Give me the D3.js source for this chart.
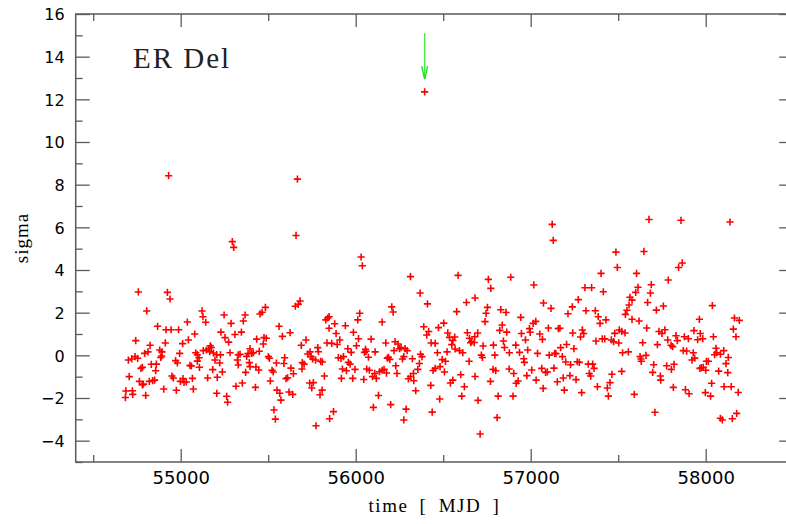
<!DOCTYPE html>
<html>
<head>
<meta charset="utf-8">
<script src="https://cdn.jsdelivr.net/npm/d3@7/dist/d3.min.js"></script>
<style>
  html, body { margin: 0; padding: 0; background: #fff; }
  svg { display: block; }
</style>
</head>
<body>
<svg id="chart" width="786" height="524"></svg>
<script>
// ---- data: [MJD, sigma] ----
const obsEarly = [[54931,8.42],[55667,8.26],[55659,5.62],[55295,5.33],[55303,5.06],[54758,2.97],[54924,2.95],[54939,2.64],[54806,2.08],[55655,2.30],[55672,2.39],[55682,2.55],[55484,2.25],[55465,2.02],[55453,1.94],[55122,2.08],[55127,1.81],[55143,1.55],[55248,1.89],[55368,1.89],[55358,1.61],[55288,1.50],[55038,1.56],[54868,1.36],[54916,1.20],[54945,1.20],[54988,1.20],[55080,1.00],[55044,0.72],[55011,0.55],[54912,0.58],[54743,0.69],[55230,1.09],[55253,0.83],[55274,0.62],[55310,0.98],[55347,1.09],[55434,0.76],[55476,0.83],[55489,0.80],[55472,0.53],[55562,1.36],[55581,0.89],[55625,1.06],[55716,0.72],[55689,0.47],[55829,1.66],[55840,1.75],[55848,1.27],[55836,0.58],[54825,0.47],[54880,0.25],[54893,0.16],[54794,0.09],[54813,0.16],[54701,-0.22],[54720,-0.17],[54739,-0.06],[54754,-0.14],[54773,-0.61],[54781,-0.56],[54832,-0.42],[54861,-0.41],[54857,-0.72],[54891,-0.03],[54886,-0.10],[54994,0.09],[54971,-0.25],[54981,-0.36],[55053,-0.47],[55061,-0.50],[55086,0.12],[55095,0.03],[55105,-0.11],[55095,-0.27],[55107,-0.56],[55129,0.22],[55147,0.25],[55160,0.31],[55169,0.45],[55175,0.37],[55166,0.17],[55187,0.11],[55206,0.03],[55227,0.02],[55223,-0.36],[55196,-0.22],[55183,-0.67],[55238,-0.78],[55282,0.12],[55329,0.02],[55339,0.05],[55324,-0.22],[55329,-0.45],[55377,-0.05],[55385,0.08],[55406,0.09],[55396,0.31],[55415,0.12],[55449,0.19],[55392,-0.34],[55396,-0.53],[55430,-0.55],[55446,-0.69],[55371,-0.80],[55501,-0.06],[55507,-0.14],[55547,-0.36],[55594,-0.11],[55590,-0.38],[55522,-0.70],[55529,-0.78],[55630,-0.60],[55644,-0.86],[55695,-0.34],[55705,-0.41],[55693,-0.64],[55726,0.06],[55739,0.16],[55745,-0.06],[55783,0.36],[55787,0.17],[55754,-0.17],[55771,-0.22],[55800,-0.28],[55809,-0.31],[55821,-0.97],[54706,-1.00],[54764,-1.22],[54781,-1.39],[54787,-1.35],[54821,-1.22],[54840,-1.19],[54851,-1.16],[54800,-1.88],[54687,-1.67],[54684,-1.98],[54724,-1.66],[54726,-1.83],[54903,-1.58],[54950,-0.97],[54958,-1.06],[54975,-1.64],[54998,-1.22],[55013,-1.09],[55019,-1.27],[55032,-1.25],[55067,-1.08],[55072,-1.58],[55154,-1.06],[55209,-1.03],[55206,-1.78],[55263,-1.92],[55268,-2.20],[55316,-1.45],[55352,-1.30],[55427,-1.50],[55512,-1.20],[55550,-1.63],[55566,-1.78],[55573,-2.10],[55602,-1.09],[55611,-1.05],[55619,-1.72],[55640,-1.83],[55533,-2.56],[55541,-2.99],[55737,-1.30],[55749,-1.53],[55758,-1.28],[55808,-1.63],[55796,-1.85],[55773,-3.30],[55851,-2.97]];

const obsMiddle = [[56031,4.61],[56038,4.20],[56313,3.69],[56585,3.75],[56758,3.56],[56772,3.14],[56886,3.66],[57018,3.30],[56368,2.92],[56410,2.41],[56633,2.48],[56682,2.69],[57073,2.45],[56577,2.05],[56753,2.25],[56745,1.97],[56739,1.58],[56829,2.14],[56859,2.01],[56943,1.78],[56206,2.27],[56214,2.03],[56023,1.97],[56012,1.66],[56151,1.56],[55941,1.39],[55880,1.48],[55888,1.02],[55909,0.72],[55848,1.81],[55987,1.08],[56016,0.78],[56004,0.45],[56088,0.76],[56172,0.58],[56056,0.28],[56050,0.14],[56111,0.16],[56225,0.64],[56242,0.53],[56259,0.36],[56219,0.22],[56282,0.31],[56294,0.22],[56250,0.31],[56275,-0.06],[56267,-0.17],[56187,-0.09],[56181,-0.13],[56195,-0.19],[56324,-0.16],[56370,0.05],[56379,-0.06],[56364,-0.38],[56355,-0.66],[56330,-0.85],[56313,-0.99],[56301,-1.10],[56332,-1.19],[56343,-1.66],[56389,1.34],[56406,0.95],[56417,1.12],[56431,0.58],[56454,0.56],[56473,1.30],[56503,1.51],[56526,1.05],[56536,0.84],[56555,0.70],[56566,0.86],[56549,0.50],[56568,0.30],[56593,0.22],[56612,0.12],[56638,1.06],[56650,0.80],[56663,0.64],[56680,0.87],[56697,1.05],[56657,0.59],[56677,0.60],[56728,0.44],[56718,0.01],[56724,-0.10],[56787,0.48],[56795,0.01],[56823,1.17],[56837,1.42],[56844,0.67],[56850,0.37],[56863,1.09],[56878,0.12],[56915,0.48],[56936,0.14],[56947,1.02],[56970,0.72],[56983,0.25],[56993,1.25],[56997,1.08],[57014,1.50],[57029,1.59],[57039,0.09],[57052,1.00],[57067,0.75],[56960,-0.16],[56964,-0.33],[57006,-0.69],[57063,-0.61],[57071,-1.55],[57031,-1.16],[56978,-0.95],[56928,-1.20],[56917,-1.31],[56903,-0.85],[56877,-0.64],[56800,-0.72],[56785,-0.66],[56770,-1.22],[56682,-0.99],[56648,-0.28],[56600,-0.91],[56621,-1.47],[56606,-1.91],[56555,-1.16],[56541,-1.30],[56494,-0.20],[56513,-0.28],[56482,-0.53],[56467,0.12],[56454,-0.61],[56442,-0.71],[56507,-0.78],[56429,-1.41],[56480,-2.05],[56437,-2.66],[56522,0.16],[55863,0.56],[55894,0.51],[55955,0.31],[55974,0.14],[55916,-0.14],[55901,-0.11],[55930,-0.06],[55958,-0.33],[55968,-0.41],[55947,-0.72],[55924,-0.64],[55996,-0.66],[55983,-1.08],[55918,-1.08],[56059,0.19],[56073,-0.09],[56063,-0.64],[56078,-0.70],[56046,-1.13],[56096,-1.00],[56109,-0.85],[56118,-1.08],[56136,-0.77],[56151,-0.70],[56162,-0.66],[56176,-0.83],[56229,-0.49],[56236,-0.85],[56130,-1.88],[56101,-2.44],[56200,-2.31],[56288,-2.52],[56275,-3.03],[55873,-2.64],[56699,-2.11],[56711,-3.69],[56808,-2.92],[56814,-1.91],[56899,-1.91]];

const obsLate = [[57123,6.14],[57129,5.39],[57676,6.37],[57859,6.33],[58139,6.25],[57487,4.84],[57647,4.87],[57495,4.12],[57845,4.12],[57866,4.33],[57402,3.84],[57605,3.84],[57786,3.53],[57310,3.17],[57348,3.17],[57415,2.98],[57613,3.19],[57600,2.95],[57689,3.31],[57684,2.92],[57567,2.72],[57579,2.59],[57562,2.36],[57550,2.11],[57541,1.92],[57668,2.48],[57758,2.31],[57718,2.12],[58038,2.33],[57116,2.20],[57272,2.61],[57238,2.27],[57213,1.95],[57316,2.09],[57369,2.09],[57386,1.81],[57396,1.50],[57430,1.66],[57579,1.69],[57619,1.61],[57663,1.28],[57964,1.69],[58164,1.75],[58192,1.64],[58158,1.23],[58173,0.87],[57101,1.28],[57158,1.25],[57167,1.27],[57240,1.05],[57295,1.19],[57303,1.02],[57285,0.86],[57373,0.67],[57409,0.77],[57423,0.77],[57461,0.72],[57474,0.64],[57480,1.03],[57506,1.19],[57520,1.12],[57539,1.05],[57503,0.58],[57525,0.12],[57558,0.16],[57640,0.59],[57724,0.50],[57733,1.12],[57750,1.03],[57767,1.20],[57783,0.72],[57802,0.47],[57811,0.41],[57830,0.92],[57838,0.69],[57878,0.87],[57901,0.78],[57933,1.16],[57969,1.02],[57983,0.78],[57954,0.73],[58044,0.87],[57872,0.22],[57891,0.20],[57929,0.12],[57922,-0.22],[57937,-0.13],[58059,0.33],[58051,0.03],[58063,0.12],[58084,0.05],[58103,0.22],[58129,-0.10],[58116,-0.39],[58126,-0.81],[58074,-0.74],[58004,-0.28],[58015,-0.28],[57986,-0.56],[57975,-0.58],[58000,-0.70],[57967,-0.61],[57819,-0.42],[57804,-0.66],[57777,-0.49],[57703,-0.44],[57697,-0.80],[57741,-0.97],[57743,-1.16],[57815,-1.50],[57884,-1.61],[57905,-1.80],[57998,-1.75],[58028,-1.91],[58034,-1.31],[58105,-1.47],[58146,-1.47],[58186,-1.74],[58177,-2.72],[58152,-2.97],[58084,-2.95],[58095,-3.03],[57710,-2.67],[57592,-1.83],[57444,-1.91],[57453,-1.28],[57438,-1.53],[57381,-1.47],[57291,-1.75],[57192,-1.63],[57152,-1.24],[57186,-1.06],[57224,-0.95],[57259,-1.14],[57335,-0.85],[57343,-0.97],[57329,-0.41],[57354,-0.41],[57362,-0.61],[57266,-0.30],[57278,-0.33],[57228,-0.44],[57200,-0.31],[57144,0.08],[57181,-0.06],[57171,0.36],[57205,0.51],[57247,0.31],[57106,0.01],[57137,0.09],[57133,-0.60],[57085,-0.80],[57095,-0.78],[57464,-0.89],[57520,-0.75],[57630,-0.17],[57632,-0.28],[57659,0.00],[57625,-0.06]];

const flare = [[56394, 12.35]];

// arrow marking the flare: MJD, sigma from -> to
const arrowMark = { mjd: 56394, from: 15.1, to: 12.95 };

const xMajorTicks = [55000, 56000, 57000, 58000];
const xMinorTicks = [54500, 55500, 56500, 57500, 58500];
const yMajorTicks = [-4, -2, 0, 2, 4, 6, 8, 10, 12, 14, 16];
const yMinorTicks = [-5, -3, -1, 1, 3, 5, 7, 9, 11, 13, 15];

const objectName = "ER Del";
const xTitle = "time [ MJD ]";
const yTitle = "sigma";

// ---- layout ----
(function draw() {
  const svg = d3.select("#chart");
  const pL = 75.7, pR = 793.2, pT = 14, pB = 462;
  const x = d3.scaleLinear().domain([54400, 58500]).range([pL, pR]);
  const y = d3.scaleLinear().domain([-5, 16]).range([pB, pT]);

  const frameColor = "#5a5a5a";
  const fmt = d => (d < 0 ? "\u2212" + Math.abs(d) : String(d));

  const gB = svg.append("g").attr("transform", `translate(0,${pB})`)
    .call(d3.axisBottom(x).tickValues(xMajorTicks).tickSize(-13).tickPadding(9).tickFormat(d3.format("d")));
  const gBm = svg.append("g").attr("transform", `translate(0,${pB})`)
    .call(d3.axisBottom(x).tickValues(xMinorTicks).tickSize(-7).tickFormat(""));
  const gT = svg.append("g").attr("transform", `translate(0,${pT})`)
    .call(d3.axisTop(x).tickValues(xMajorTicks).tickSize(-13).tickFormat(""));
  const gTm = svg.append("g").attr("transform", `translate(0,${pT})`)
    .call(d3.axisTop(x).tickValues(xMinorTicks).tickSize(-7).tickFormat(""));
  const gL = svg.append("g").attr("transform", `translate(${pL},0)`)
    .call(d3.axisLeft(y).tickValues(yMajorTicks).tickSize(-14).tickPadding(11).tickFormat(fmt));
  const gLm = svg.append("g").attr("transform", `translate(${pL},0)`)
    .call(d3.axisLeft(y).tickValues(yMinorTicks).tickSize(-7).tickFormat(""));
  const gR = svg.append("g").attr("transform", `translate(${pR},0)`)
    .call(d3.axisRight(y).tickValues(yMajorTicks).tickSize(-14).tickFormat(""));
  const gRm = svg.append("g").attr("transform", `translate(${pR},0)`)
    .call(d3.axisRight(y).tickValues(yMinorTicks).tickSize(-7).tickFormat(""));

  [gB, gBm, gT, gTm, gL, gLm, gR, gRm].forEach(g => {
    g.select(".domain").remove();
    g.selectAll(".tick line").attr("stroke", frameColor).attr("stroke-width", 1.3);
  });
  gB.selectAll(".tick text").attr("font-family", "'DejaVu Sans', sans-serif")
    .attr("font-size", 18).attr("fill", "#000");
  gL.selectAll(".tick text").attr("font-family", "'DejaVu Sans', sans-serif")
    .attr("font-size", 16).attr("fill", "#000").attr("dy", "0.36em");

  svg.append("rect").attr("x", pL).attr("y", pT)
    .attr("width", pR - pL).attr("height", pB - pT)
    .attr("fill", "none").attr("stroke", frameColor).attr("stroke-width", 1.5);

  const allObs = obsEarly.concat(obsMiddle, obsLate, flare);
  const arm = 3.6;
  svg.append("g").selectAll("path").data(allObs).enter().append("path")
    .attr("d", d => {
      const px = x(d[0]), py = y(d[1]);
      return `M${px - arm},${py}H${px + arm}M${px},${py - arm}V${py + arm}`;
    })
    .attr("stroke", "#ff0000").attr("stroke-width", 1.6).attr("fill", "none");

  const ax = x(arrowMark.mjd);
  const tipY = y(arrowMark.to);
  svg.append("line").attr("x1", ax).attr("x2", ax)
    .attr("y1", y(arrowMark.from)).attr("y2", tipY)
    .attr("stroke", "#44ee44").attr("stroke-width", 1.4);
  svg.append("path")
    .attr("d", `M${ax - 3},${tipY - 13}L${ax},${tipY}L${ax + 3},${tipY - 13}`)
    .attr("stroke", "#22dd22").attr("stroke-width", 1.4).attr("fill", "none");

  svg.append("text").attr("x", 133).attr("y", 68)
    .attr("font-family", "'Liberation Serif', 'DejaVu Serif', serif")
    .attr("font-size", 29).attr("letter-spacing", 2).attr("fill", "#222")
    .text(objectName);

  svg.append("text").attr("x", (pL + pR) / 2).attr("y", 512)
    .attr("text-anchor", "middle")
    .attr("font-family", "'Liberation Serif', 'DejaVu Serif', serif")
    .attr("font-size", 19).attr("letter-spacing", 1.5).attr("word-spacing", 5)
    .attr("fill", "#000")
    .text(xTitle);
  svg.append("text").attr("transform", `translate(28,${(pT + pB) / 2}) rotate(-90)`)
    .attr("text-anchor", "middle")
    .attr("font-family", "'Liberation Serif', 'DejaVu Serif', serif")
    .attr("font-size", 19).attr("letter-spacing", 1).attr("fill", "#000")
    .text(yTitle);
})();
</script>
</body>
</html>
